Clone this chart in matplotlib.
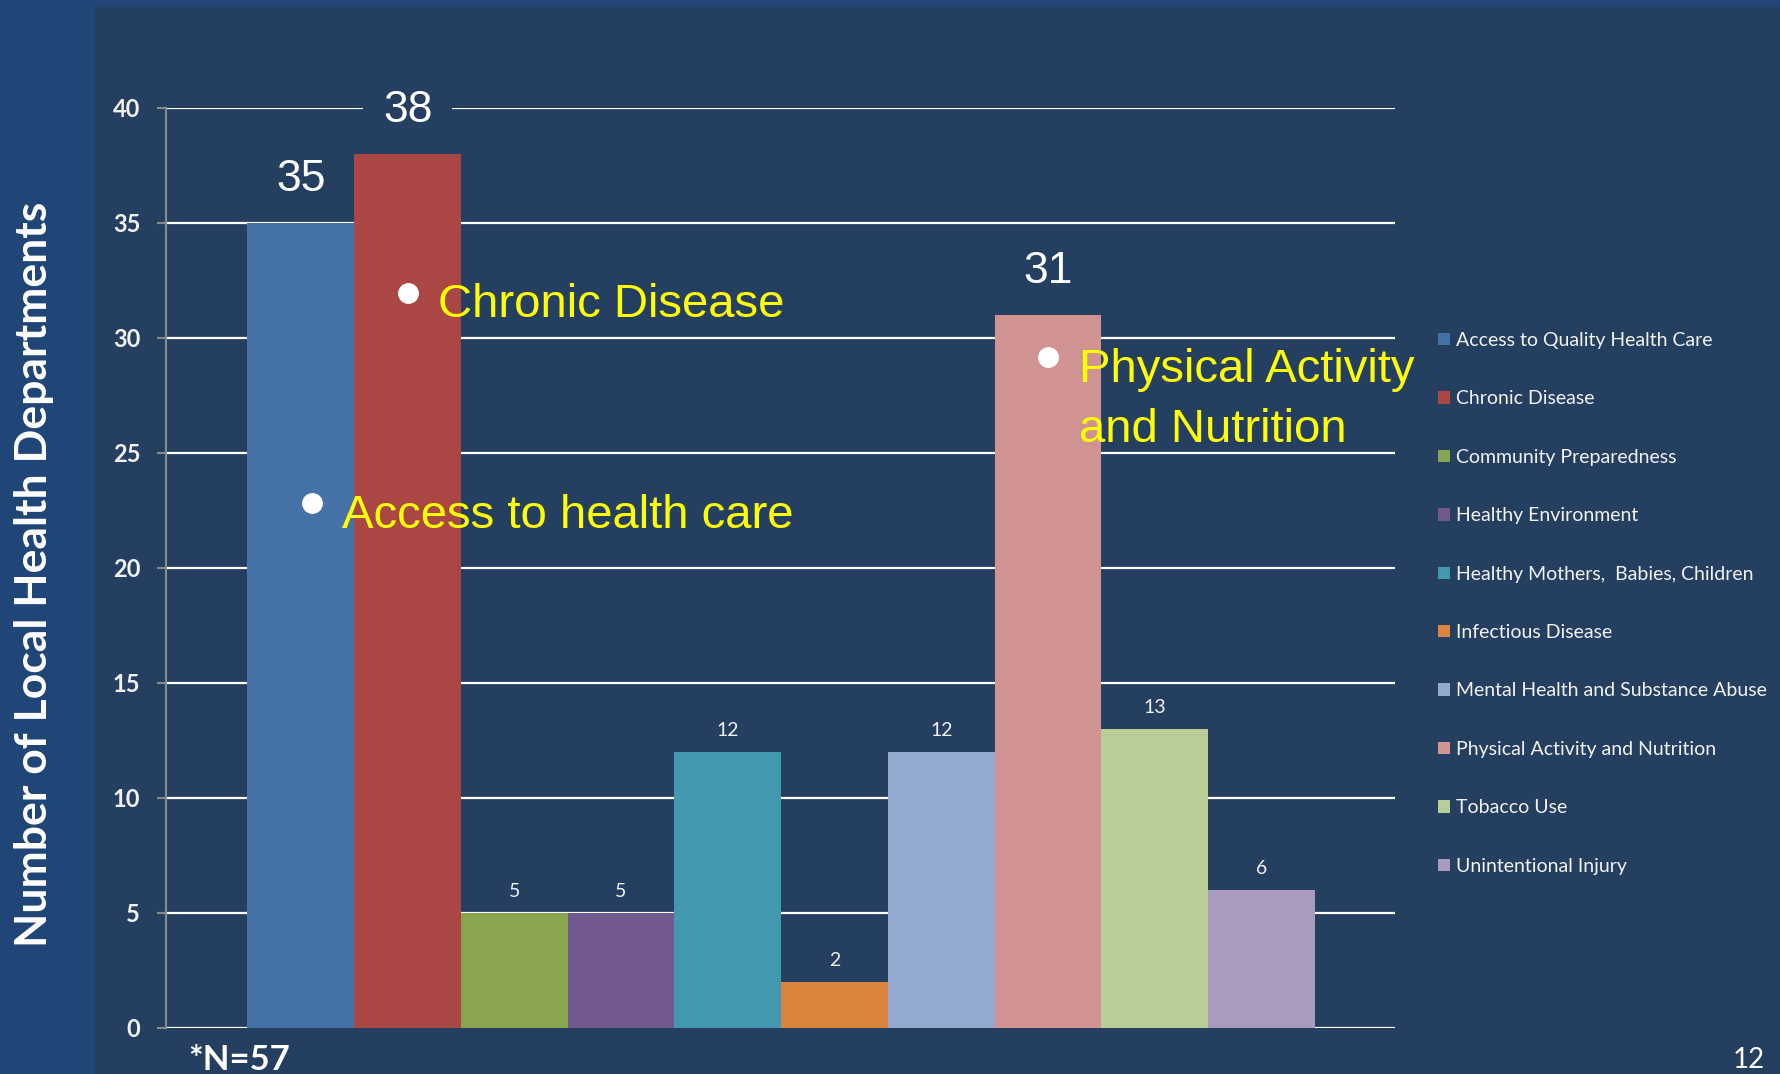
import matplotlib
matplotlib.use("Agg")
import matplotlib.pyplot as plt
from matplotlib.patches import Rectangle
from matplotlib.lines import Line2D
import numpy as np

# priority areas chosen by local health departments (*N=57)
categories = ["Access to Quality Health Care", "Chronic Disease",
              "Community Preparedness", "Healthy Environment",
              "Healthy Mothers,  Babies, Children", "Infectious Disease",
              "Mental Health and Substance Abuse",
              "Physical Activity and Nutrition", "Tobacco Use",
              "Unintentional Injury"]
counts = [35, 38, 5, 5, 12, 2, 12, 31, 13, 6]
colors = ["#4572A7", "#AA4643", "#89A54E", "#71588F", "#4198AF",
          "#DB843D", "#93A9CF", "#D19392", "#B9CD96", "#A99BBD"]
big_labels = ["Access to Quality Health Care", "Chronic Disease",
              "Physical Activity and Nutrition"]
yticks = [0, 5, 10, 15, 20, 25, 30, 35, 40]

BG = "#243F60"
BAND = "#1F4677"
W, H = 1781, 1074

fig = plt.figure(figsize=(W / 100, H / 100), dpi=100, facecolor=BG)
fig.add_artist(Rectangle((0, 0), 94 / W, 1, transform=fig.transFigure,
                         color=BAND, zorder=0))
fig.add_artist(Rectangle((0, 1 - 6 / H), 1, 6 / H, transform=fig.transFigure,
                         color=BAND, zorder=0))

ax = fig.add_axes([166 / W, 1 - 1027.5 / H, (1395.5 - 166) / W, 920 / H])
ax.set_facecolor("none")

x = np.arange(len(counts))
bars = ax.bar(x, counts, width=1.0, color=colors, zorder=2)

ax.set_xlim(-1.263, 10.254)
ax.set_ylim(0, 40)
ax.set_xticks([])
ax.set_yticks(yticks)
ax.set_yticklabels([str(t) for t in yticks], fontfamily="Lato",
                   fontweight="bold", fontsize=17, color="#F2F2F2")
ax.tick_params(axis="y", length=6.5, width=1.5, color="#8A8A8A", pad=12)
ax.yaxis.grid(True, color="white", linewidth=1.6)
ax.set_axisbelow(True)
for side in ["top", "right", "bottom"]:
    ax.spines[side].set_visible(False)
ax.spines["left"].set_color("#8A8A8A")
ax.spines["left"].set_linewidth(1.5)

# value labels: big ones for the highlighted areas
for rect, name, val in zip(bars, categories, counts):
    cx = rect.get_x() + rect.get_width() / 2
    if name in big_labels:
        box = None
        if val == max(counts):
            box = dict(boxstyle="square,pad=0.45", fc=BG, ec="none")
        ax.annotate(str(val), (cx, val), xytext=(0, 22.5),
                    textcoords="offset points", ha="center", va="baseline",
                    fontsize=32, color="white", fontfamily="Liberation Sans",
                    bbox=box, zorder=4)
    else:
        ax.annotate(str(val), (cx, val), xytext=(0, 11),
                    textcoords="offset points", ha="center", va="baseline",
                    fontsize=14, color="#F2F2F2", fontfamily="Lato", zorder=4)

fig.text(34 / W, 1 - 574 / H, "Number of Local Health Departments",
         rotation=90, ha="center", va="center", fontfamily="Lato",
         fontweight="bold", fontsize=32, color="white")

leg = ax.legend(bars, categories, loc="upper left",
                bbox_to_anchor=(1438 / W, 1 - 332 / H),
                bbox_transform=fig.transFigure, frameon=False,
                prop={"family": "Lato", "size": 14},
                handlelength=0.6, handleheight=0.6, handletextpad=0.35,
                labelspacing=2.13, borderpad=0, borderaxespad=0)
for t in leg.get_texts():
    t.set_color("#F2F2F2")

# yellow bullet callouts
callouts = [("Chronic Disease", 408, 293, 438, [317]),
            ("Access to health care", 312, 503, 342, [528]),
            ("Physical Activity\nand Nutrition", 1048, 357, 1079, [382, 442])]
for text, bx, by, tx, baselines in callouts:
    fig.add_artist(Line2D([bx / W], [1 - by / H], marker="o", markersize=14,
                          color="white", transform=fig.transFigure, zorder=5))
    for line, base in zip(text.split("\n"), baselines):
        fig.text(tx / W, 1 - base / H, line, fontsize=34, color="#FFFF00",
                 fontfamily="Liberation Sans", va="baseline", ha="left",
                 zorder=5)

fig.text(188 / W, 1 - 1070 / H, "*N=57", fontfamily="Lato", fontweight="bold",
         fontsize=25, color="white", va="baseline", ha="left")
fig.text(1765 / W, 1 - 1068 / H, "12", fontfamily="Lato", fontsize=20,
         color="white", va="baseline", ha="right")

fig.savefig("out.png", dpi=100, facecolor=BG)
